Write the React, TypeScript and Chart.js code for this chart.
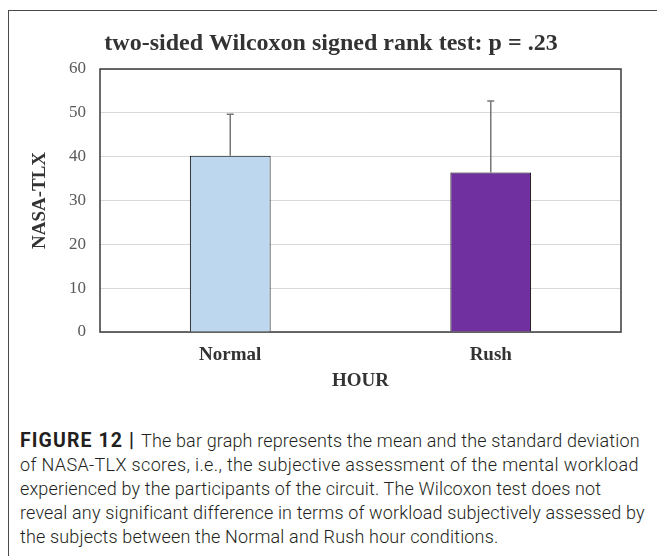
import React, { useEffect, useRef } from 'react';
import { Chart, registerables } from 'chart.js';

Chart.register(...registerables);

const categories = ['Normal', 'Rush'];
const means = [40.2, 36.4];
const stdDevs = [9.5, 16.3];
const yTicks = [0, 10, 20, 30, 40, 50, 60];
const barColors = ['#BDD7EE', '#7030A0'];
const chartTitle = 'two-sided Wilcoxon signed rank test: p = .23';
const yTitle = 'NASA-TLX';
const xTitle = 'HOUR';
const captionLead = 'FIGURE 12 | ';
const captionLines = [
  'The bar graph represents the mean and the standard deviation',
  'of NASA-TLX scores, i.e., the subjective assessment of the mental workload',
  'experienced by the participants of the circuit. The Wilcoxon test does not',
  'reveal any significant difference in terms of workload subjectively assessed by',
  'the subjects between the Normal and Rush hour conditions.',
];

const SERIF = "'Liberation Serif', 'Times New Roman', serif";

const framePlugin = {
  id: 'plotFrame',
  beforeDatasetsDraw(chart: any) {
    const { ctx, chartArea } = chart;
    ctx.save();
    ctx.strokeStyle = '#3a3a3a';
    ctx.lineWidth = 1.5;
    ctx.strokeRect(chartArea.left, chartArea.top, chartArea.right - chartArea.left, chartArea.bottom - chartArea.top);
    ctx.restore();
  },
};

const errorBarPlugin = {
  id: 'errorBars',
  afterDatasetsDraw(chart: any) {
    const { ctx } = chart;
    const meta = chart.getDatasetMeta(0);
    const yScale = chart.scales.y;
    ctx.save();
    ctx.strokeStyle = '#767676';
    ctx.lineWidth = 1.5;
    meta.data.forEach((bar: any, i: number) => {
      const top = yScale.getPixelForValue(means[i] + stdDevs[i]);
      const x = bar.x;
      ctx.beginPath();
      ctx.moveTo(x, bar.y);
      ctx.lineTo(x, top);
      ctx.moveTo(x - 3.5, top);
      ctx.lineTo(x + 3.5, top);
      ctx.stroke();
    });
    ctx.restore();
  },
};

export default function App() {
  const canvasRef = useRef<HTMLCanvasElement | null>(null);

  useEffect(() => {
    if (!canvasRef.current) return;
    const chart = new Chart(canvasRef.current, {
      type: 'bar',
      data: {
        labels: categories,
        datasets: [
          {
            data: means,
            backgroundColor: barColors,
            borderColor: '#000000',
            borderWidth: 1,
            barPercentage: 0.31,
            categoryPercentage: 1,
          },
        ],
      },
      options: {
        animation: false,
        responsive: false,
        devicePixelRatio: 1,
        layout: { padding: { left: 20, right: 15, top: 20, bottom: 3.6 } },
        font: { family: SERIF },
        plugins: {
          legend: { display: false },
          tooltip: { enabled: false },
          title: {
            display: true,
            text: chartTitle,
            color: '#333333',
            font: { family: SERIF, size: 24, weight: 'bold' },
            padding: { top: 9.6, bottom: 10.6 },
          },
        },
        scales: {
          x: {
            grid: { display: false, drawTicks: false },
            border: { display: false },
            ticks: { padding: 11.6, color: '#333333', font: { family: SERIF, size: 19, weight: 'bold' } },
            title: {
              display: true,
              text: xTitle,
              color: '#333333',
              font: { family: SERIF, size: 19, weight: 'bold' },
              padding: { top: 3, bottom: 4 },
            },
            afterFit: (s: any) => {
              s.height = 64.4;
            },
          },
          y: {
            min: 0,
            max: 60,
            afterBuildTicks: (s: any) => {
              s.ticks = yTicks.map((v) => ({ value: v }));
            },
            grid: { color: '#d9d9d9', lineWidth: 1, drawTicks: false },
            border: { display: false },
            ticks: { padding: 14, color: '#595959', font: { family: SERIF, size: 17 } },
            title: {
              display: true,
              text: yTitle,
              color: '#333333',
              font: { family: SERIF, size: 19, weight: 'bold' },
              padding: { top: 9, bottom: 4 },
            },
            afterFit: (s: any) => {
              s.width = 80;
            },
          },
          y2: {
            type: 'linear',
            position: 'right',
            display: true,
            grid: { display: false, drawTicks: false },
            border: { display: false },
            ticks: { display: false },
            afterFit: (s: any) => {
              s.width = 21;
            },
          },
        },
      },
      plugins: [framePlugin, errorBarPlugin],
    } as any);
    return () => chart.destroy();
  }, []);

  return (
    <div
      style={{
        position: 'fixed',
        left: 0,
        top: 0,
        width: 657,
        height: 556,
        overflow: 'hidden',
        background: '#ffffff',
      }}
    >
      <div
        style={{
          position: 'absolute',
          left: 8,
          top: 10,
          width: 700,
          height: 600,
          borderTop: '1px solid #4a4a4a',
          borderLeft: '1px solid #4a4a4a',
        }}
      />
      <canvas
        ref={canvasRef}
        width={657}
        height={400}
        style={{ position: 'absolute', left: 0, top: 0, width: 657, height: 400 }}
      />
      <div
        style={{
          position: 'absolute',
          left: 20,
          top: 429,
          fontFamily: "Roboto, 'Liberation Sans', Arial, sans-serif",
          fontWeight: 300,
          fontSize: 18,
          letterSpacing: '0.15px',
          lineHeight: '24px',
          color: '#231f20',
          whiteSpace: 'nowrap',
        }}
      >
        {captionLines.map((line, i) => (
          <div key={i} style={i === 1 ? { letterSpacing: '0.35px' } : undefined}>
            {i === 0 && (
              <span style={{ fontWeight: 700, fontSize: 19.5, letterSpacing: '1.1px' }}>{captionLead}</span>
            )}
            {line}
          </div>
        ))}
      </div>
    </div>
  );
}
